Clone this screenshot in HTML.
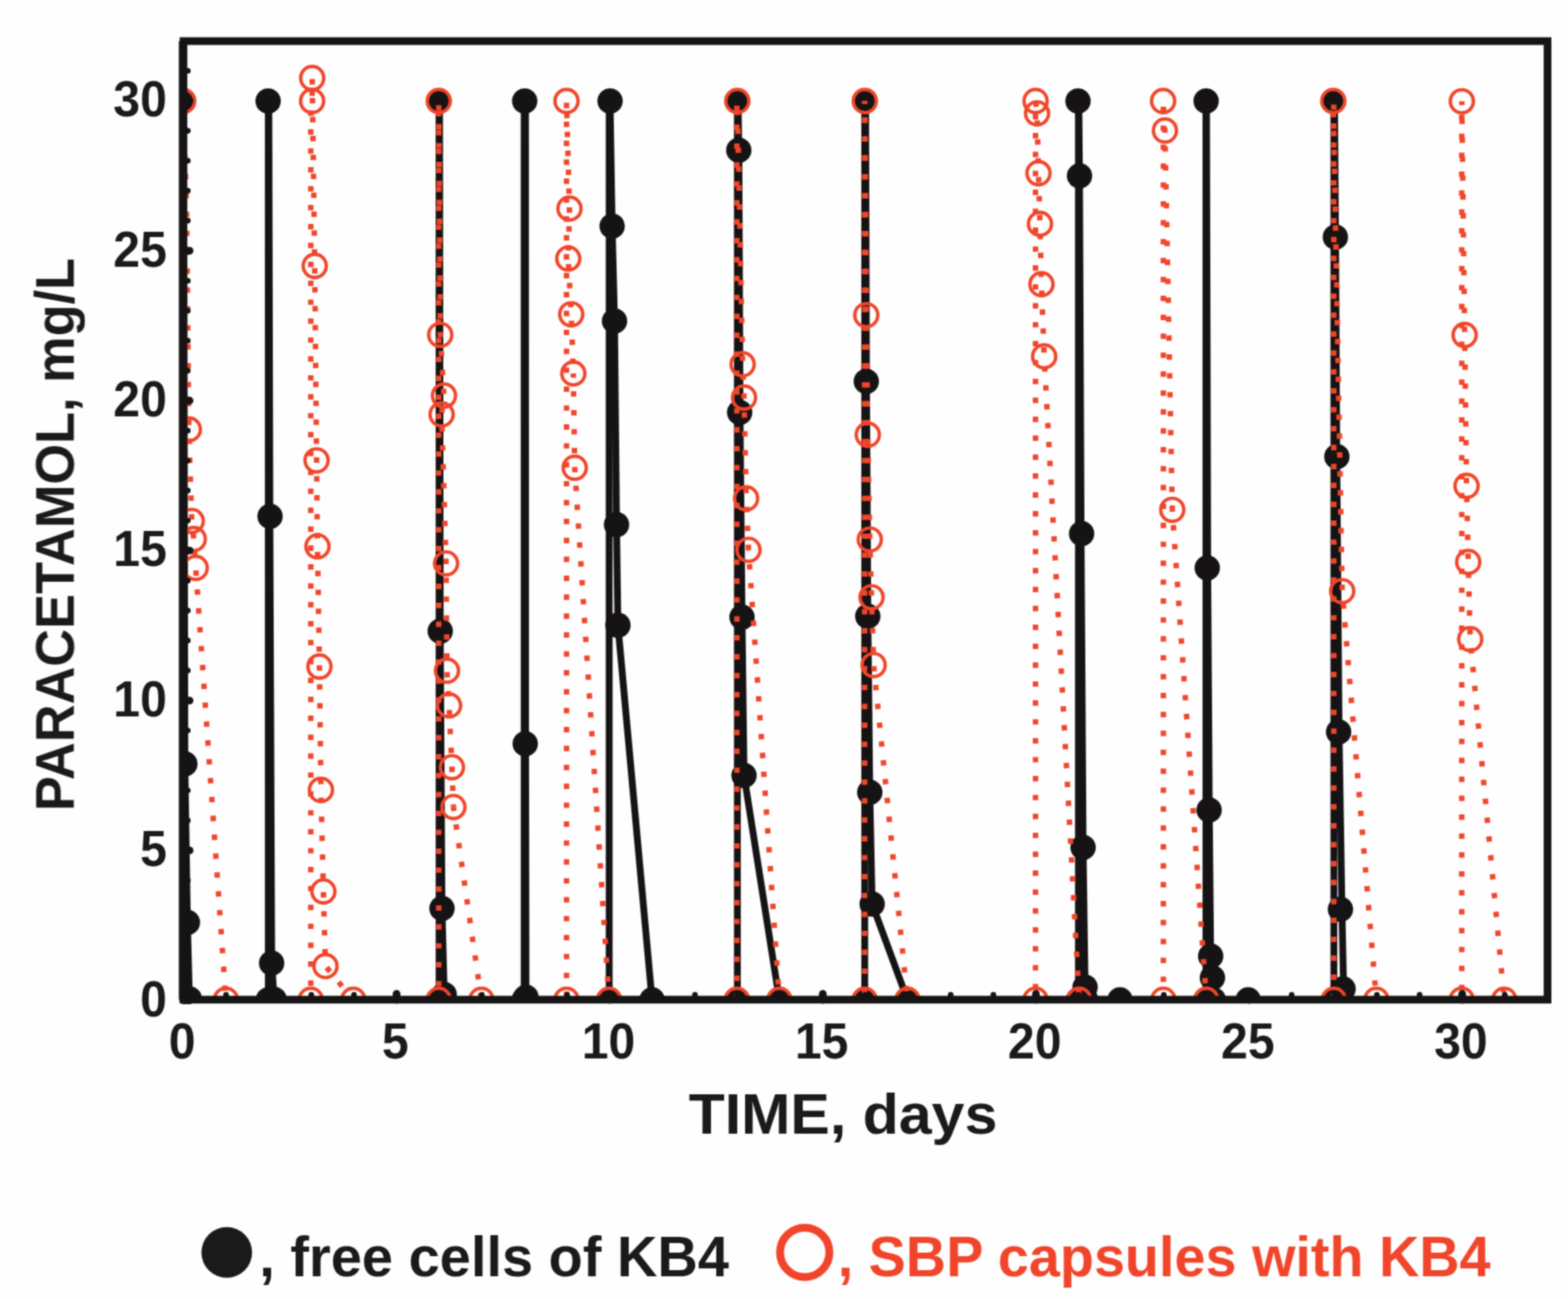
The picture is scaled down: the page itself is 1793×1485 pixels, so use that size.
<!DOCTYPE html>
<html lang="en"><head><meta charset="utf-8"><title>Paracetamol degradation: free cells of KB4 vs SBP capsules with KB4</title>
<style>
html,body{margin:0;padding:0;background:#fff;}
body{width:1793px;height:1485px;overflow:hidden;}
svg{display:block;}
text{font-family:"Liberation Sans",Arial,Helvetica,sans-serif;font-weight:bold;}
.tk{font-size:57px;fill:#1a1a1a;}
.bl{fill:none;stroke:#161314;stroke-width:7.8;stroke-linejoin:round;stroke-linecap:round;}
.rl{fill:none;stroke:#f0452a;stroke-width:6.2;stroke-linejoin:round;stroke-linecap:butt;stroke-dasharray:6.20 15.42;}
.bd{fill:#161314;}
.rd{fill:none;stroke:#f0452a;stroke-width:3.9;}
</style></head><body>
<svg width="1793" height="1485" viewBox="0 0 1793 1485">
<rect x="0" y="0" width="1793" height="1485" fill="#fefefe"/>
<defs><filter id="soft" x="0" y="0" width="1793" height="1485" filterUnits="userSpaceOnUse" color-interpolation-filters="sRGB"><feConvolveMatrix order="5" kernelMatrix="0.0014 0.0164 0.0374 0.0164 0.0014 0.0164 0.1933 0.4396 0.1933 0.0164 0.0374 0.4396 1.0000 0.4396 0.0374 0.0164 0.1933 0.4396 0.1933 0.0164 0.0014 0.0164 0.0374 0.0164 0.0014" edgeMode="duplicate" preserveAlpha="false"/></filter><clipPath id="pc"><rect x="205.2" y="43" width="1568.8" height="1100.5"/></clipPath></defs>
<g filter="url(#soft)">
<g clip-path="url(#pc)">
<g class="bl">
<polyline points="209.8,115.5 211.4,873.2 214.3,1054.6 216.6,1142.0"/>
<polyline points="306.8,1143.0 306.8,115.5"/>
<polyline points="307.4,115.5 308.6,590.2 310.7,1101.1 313.5,1142.5"/>
<polyline points="502.1,1143.0 502.1,115.5"/>
<polyline points="502.6,115.5 503.4,721.5 505.4,1038.5 508.0,1137.0"/>
<polyline points="599.4,1143.0 599.4,115.5"/>
<polyline points="600.9,115.5 601.0,850.2 601.5,1140.0"/>
<polyline points="696.6,1143.0 696.6,115.5"/>
<polyline points="697.6,115.5 700.0,258.6 702.7,367.0 705.0,599.8 706.6,714.8 745.6,1143.0"/>
<polyline points="843.2,1143.0 843.2,115.5"/>
<polyline points="844.0,115.5 844.9,171.7 846.2,471.4 848.5,705.4 850.8,886.5 891.2,1143.0"/>
<polyline points="988.8,1143.0 988.8,115.5"/>
<polyline points="989.8,115.5 990.8,436.0 992.4,704.4 994.6,905.7 997.3,1033.5 1037.7,1143.0"/>
<polyline points="1233.2,1143.0 1233.2,115.5"/>
<polyline points="1233.6,115.5 1234.4,201.0 1236.2,610.1 1238.5,968.7 1240.8,1128.6 1241.5,1143.0 1280.7,1143.0"/>
<polyline points="1379.0,1143.0 1379.0,115.5"/>
<polyline points="1379.6,115.5 1381.0,649.2 1382.8,925.9 1384.4,1093.0 1386.4,1117.8 1387.5,1143.0 1427.3,1143.0"/>
<polyline points="1525.3,1143.0 1525.3,115.5"/>
<polyline points="1526.0,115.5 1527.2,271.0 1528.6,521.9 1531.2,836.7 1534.5,1039.5 1536.4,1130.5"/>
</g>
<g class="bd">
<circle cx="209.8" cy="115.5" r="14.5"/>
<circle cx="211.4" cy="873.2" r="14.5"/>
<circle cx="214.3" cy="1054.6" r="14.5"/>
<circle cx="216.6" cy="1142.0" r="14.5"/>
<circle cx="306.8" cy="1143.0" r="14.5"/>
<circle cx="306.6" cy="115.5" r="14.5"/>
<circle cx="308.8" cy="590.2" r="14.5"/>
<circle cx="310.6" cy="1101.1" r="14.5"/>
<circle cx="313.5" cy="1142.5" r="14.5"/>
<circle cx="502.1" cy="1143.0" r="14.5"/>
<circle cx="501.7" cy="115.5" r="14.5"/>
<circle cx="503.4" cy="721.5" r="14.5"/>
<circle cx="505.4" cy="1038.5" r="14.5"/>
<circle cx="508.0" cy="1137.0" r="14.5"/>
<circle cx="599.4" cy="1143.0" r="14.5"/>
<circle cx="600.0" cy="115.5" r="14.5"/>
<circle cx="600.6" cy="850.2" r="14.5"/>
<circle cx="601.5" cy="1140.0" r="14.5"/>
<circle cx="696.6" cy="1143.0" r="14.5"/>
<circle cx="697.6" cy="115.5" r="14.5"/>
<circle cx="700.0" cy="258.6" r="14.5"/>
<circle cx="702.7" cy="367.0" r="14.5"/>
<circle cx="705.0" cy="599.8" r="14.5"/>
<circle cx="706.6" cy="714.8" r="14.5"/>
<circle cx="745.6" cy="1143.0" r="14.5"/>
<circle cx="843.2" cy="1143.0" r="14.5"/>
<circle cx="843.1" cy="115.5" r="14.5"/>
<circle cx="844.8" cy="171.7" r="14.5"/>
<circle cx="845.8" cy="471.4" r="14.5"/>
<circle cx="848.5" cy="705.4" r="14.5"/>
<circle cx="850.8" cy="886.5" r="14.5"/>
<circle cx="891.2" cy="1143.0" r="14.5"/>
<circle cx="988.8" cy="1143.0" r="14.5"/>
<circle cx="988.9" cy="115.5" r="14.5"/>
<circle cx="990.6" cy="436.0" r="14.5"/>
<circle cx="992.3" cy="704.4" r="14.5"/>
<circle cx="994.6" cy="905.7" r="14.5"/>
<circle cx="997.3" cy="1033.5" r="14.5"/>
<circle cx="1037.7" cy="1143.0" r="14.5"/>
<circle cx="1233.2" cy="1143.0" r="14.5"/>
<circle cx="1232.7" cy="115.5" r="14.5"/>
<circle cx="1234.4" cy="201.0" r="14.5"/>
<circle cx="1236.8" cy="610.1" r="14.5"/>
<circle cx="1238.5" cy="968.7" r="14.5"/>
<circle cx="1240.8" cy="1128.6" r="14.5"/>
<circle cx="1241.5" cy="1143.0" r="14.5"/>
<circle cx="1280.7" cy="1143.0" r="14.5"/>
<circle cx="1379.0" cy="1143.0" r="14.5"/>
<circle cx="1379.2" cy="115.5" r="14.5"/>
<circle cx="1380.5" cy="649.2" r="14.5"/>
<circle cx="1382.6" cy="925.9" r="14.5"/>
<circle cx="1384.4" cy="1093.0" r="14.5"/>
<circle cx="1386.4" cy="1117.8" r="14.5"/>
<circle cx="1387.5" cy="1143.0" r="14.5"/>
<circle cx="1427.3" cy="1143.0" r="14.5"/>
<circle cx="1525.3" cy="1143.0" r="14.5"/>
<circle cx="1524.6" cy="115.5" r="14.5"/>
<circle cx="1527.0" cy="271.0" r="14.5"/>
<circle cx="1528.7" cy="521.9" r="14.5"/>
<circle cx="1530.7" cy="836.7" r="14.5"/>
<circle cx="1532.8" cy="1039.5" r="14.5"/>
<circle cx="1535.8" cy="1130.5" r="14.5"/>
</g>
<g class="rl">
<polyline points="209.4,115.5 213.3,235.0 215.9,490.9 219.3,595.6 221.6,616.2 223.8,649.2" stroke-dashoffset="3.11"/>
<polyline points="223.8,649.2 258.3,1143.0" stroke-dashoffset="18.67"/>
<polyline points="355.4,1143.0 355.4,115.5" stroke-dashoffset="5.56"/>
<polyline points="356.9,115.5 357.0,89.2 359.9,304.0 362.0,526.3 363.0,624.6 365.3,762.0 367.0,903.0 369.8,1019.1 372.2,1104.4 404.0,1143.0" stroke-dashoffset="15.74"/>
<polyline points="501.7,1143.0 501.7,115.5" stroke-dashoffset="6.20"/>
<polyline points="501.7,115.5 503.4,382.8 507.7,452.2 505.0,473.7 510.1,644.1 511.1,766.7 513.5,806.4 516.8,877.1 518.5,922.6" stroke-dashoffset="16.96"/>
<polyline points="518.5,922.6 550.5,1143.0" stroke-dashoffset="1.68"/>
<polyline points="647.8,1143.0 647.8,115.5" stroke-dashoffset="18.44"/>
<polyline points="647.8,115.5 651.2,238.4 649.8,295.6 653.2,359.3 655.6,426.9" stroke-dashoffset="8.16"/>
<polyline points="655.6,426.9 657.2,534.7" stroke-dashoffset="1.32"/>
<polyline points="657.2,534.7 696.4,1143.0" stroke-dashoffset="1.05"/>
<polyline points="842.6,1143.0 842.6,115.5" stroke-dashoffset="0.06"/>
<polyline points="843.1,115.5 849.2,416.5 850.8,454.5 853.2,569.7 855.9,628.6" stroke-dashoffset="11.68"/>
<polyline points="855.9,628.6 891.2,1143.0" stroke-dashoffset="5.32"/>
<polyline points="988.7,1143.0 988.7,115.5" stroke-dashoffset="13.58"/>
<polyline points="988.9,115.5 990.6,360.3 992.3,497.0 994.6,616.8 996.6,682.8 999.0,760.3" stroke-dashoffset="2.88"/>
<polyline points="999.0,760.3 1037.7,1143.0" stroke-dashoffset="20.46"/>
<polyline points="1184.1,1143.0 1184.1,115.5" stroke-dashoffset="9.66"/>
<polyline points="1184.2,115.5 1185.9,129.6 1187.5,198.0 1189.2,255.9 1190.9,324.9 1194.0,407.4" stroke-dashoffset="21.05"/>
<polyline points="1194.0,407.4 1234.0,1143.0" stroke-dashoffset="10.29"/>
<polyline points="1330.3,1143.0 1330.3,115.5" stroke-dashoffset="1.24"/>
<polyline points="1330.0,115.5 1332.1,149.2 1340.5,582.8" stroke-dashoffset="13.07"/>
<polyline points="1340.5,582.8 1379.4,1143.0" stroke-dashoffset="4.06"/>
<polyline points="1525.2,1143.0 1525.2,115.5" stroke-dashoffset="20.37"/>
<polyline points="1524.6,115.5 1534.8,675.8" stroke-dashoffset="9.18"/>
<polyline points="1534.8,675.8 1573.9,1143.0" stroke-dashoffset="7.59"/>
<polyline points="1671.5,1143.0 1671.5,115.8" stroke-dashoffset="10.48"/>
<polyline points="1671.6,115.8 1674.8,383.0 1677.0,555.5 1678.9,642.4 1681.2,730.6" stroke-dashoffset="1.86"/>
<polyline points="1681.2,730.6 1720.1,1143.0" stroke-dashoffset="11.29"/>
</g>
<g class="rd">
<circle cx="209.4" cy="115.5" r="13.2"/>
<circle cx="215.9" cy="490.9" r="13.2"/>
<circle cx="219.3" cy="595.6" r="13.2"/>
<circle cx="221.6" cy="616.2" r="13.2"/>
<circle cx="223.8" cy="649.2" r="13.2"/>
<circle cx="258.3" cy="1143.0" r="13.2"/>
<circle cx="355.4" cy="1143.0" r="13.2"/>
<circle cx="356.9" cy="115.5" r="13.2"/>
<circle cx="357.0" cy="89.2" r="13.2"/>
<circle cx="359.9" cy="304.0" r="13.2"/>
<circle cx="362.0" cy="526.3" r="13.2"/>
<circle cx="363.0" cy="624.6" r="13.2"/>
<circle cx="365.3" cy="762.0" r="13.2"/>
<circle cx="367.0" cy="903.0" r="13.2"/>
<circle cx="369.8" cy="1019.1" r="13.2"/>
<circle cx="372.2" cy="1104.4" r="13.2"/>
<circle cx="404.0" cy="1143.0" r="13.2"/>
<circle cx="501.7" cy="1143.0" r="13.2"/>
<circle cx="501.7" cy="115.5" r="13.2"/>
<circle cx="503.4" cy="382.8" r="13.2"/>
<circle cx="507.7" cy="452.2" r="13.2"/>
<circle cx="505.0" cy="473.7" r="13.2"/>
<circle cx="510.1" cy="644.1" r="13.2"/>
<circle cx="511.1" cy="766.7" r="13.2"/>
<circle cx="513.5" cy="806.4" r="13.2"/>
<circle cx="516.8" cy="877.1" r="13.2"/>
<circle cx="518.5" cy="922.6" r="13.2"/>
<circle cx="550.5" cy="1143.0" r="13.2"/>
<circle cx="647.8" cy="1143.0" r="13.2"/>
<circle cx="647.8" cy="115.5" r="13.2"/>
<circle cx="651.2" cy="238.4" r="13.2"/>
<circle cx="649.8" cy="295.6" r="13.2"/>
<circle cx="653.2" cy="359.3" r="13.2"/>
<circle cx="655.6" cy="426.9" r="13.2"/>
<circle cx="657.2" cy="534.7" r="13.2"/>
<circle cx="696.4" cy="1143.0" r="13.2"/>
<circle cx="842.6" cy="1143.0" r="13.2"/>
<circle cx="843.1" cy="115.5" r="13.2"/>
<circle cx="849.2" cy="416.5" r="13.2"/>
<circle cx="850.8" cy="454.5" r="13.2"/>
<circle cx="853.2" cy="569.7" r="13.2"/>
<circle cx="855.9" cy="628.6" r="13.2"/>
<circle cx="891.2" cy="1143.0" r="13.2"/>
<circle cx="988.7" cy="1143.0" r="13.2"/>
<circle cx="988.9" cy="115.5" r="13.2"/>
<circle cx="990.6" cy="360.3" r="13.2"/>
<circle cx="992.3" cy="497.0" r="13.2"/>
<circle cx="994.6" cy="616.8" r="13.2"/>
<circle cx="996.6" cy="682.8" r="13.2"/>
<circle cx="999.0" cy="760.3" r="13.2"/>
<circle cx="1037.7" cy="1143.0" r="13.2"/>
<circle cx="1184.1" cy="1143.0" r="13.2"/>
<circle cx="1184.2" cy="115.5" r="13.2"/>
<circle cx="1185.9" cy="129.6" r="13.2"/>
<circle cx="1187.5" cy="198.0" r="13.2"/>
<circle cx="1189.2" cy="255.9" r="13.2"/>
<circle cx="1190.9" cy="324.9" r="13.2"/>
<circle cx="1194.0" cy="407.4" r="13.2"/>
<circle cx="1234.0" cy="1143.0" r="13.2"/>
<circle cx="1330.3" cy="1143.0" r="13.2"/>
<circle cx="1330.0" cy="115.5" r="13.2"/>
<circle cx="1332.1" cy="149.2" r="13.2"/>
<circle cx="1340.5" cy="582.8" r="13.2"/>
<circle cx="1379.4" cy="1143.0" r="13.2"/>
<circle cx="1525.2" cy="1143.0" r="13.2"/>
<circle cx="1524.6" cy="115.5" r="13.2"/>
<circle cx="1534.8" cy="675.8" r="13.2"/>
<circle cx="1573.9" cy="1143.0" r="13.2"/>
<circle cx="1671.5" cy="1143.0" r="13.2"/>
<circle cx="1671.6" cy="115.8" r="13.2"/>
<circle cx="1674.8" cy="383.0" r="13.2"/>
<circle cx="1677.0" cy="555.5" r="13.2"/>
<circle cx="1678.9" cy="642.4" r="13.2"/>
<circle cx="1681.2" cy="730.6" r="13.2"/>
<circle cx="1720.1" cy="1143.0" r="13.2"/>
</g>
</g>
<g stroke="#161314" stroke-linecap="round" fill="none">
<line x1="209.8" y1="1143" x2="209.8" y2="1136.2" stroke-width="8.8"/>
<line x1="258.5" y1="1143" x2="258.5" y2="1137.2" stroke-width="6.4"/>
<line x1="307.3" y1="1143" x2="307.3" y2="1137.2" stroke-width="6.4"/>
<line x1="356.0" y1="1143" x2="356.0" y2="1137.2" stroke-width="6.4"/>
<line x1="404.8" y1="1143" x2="404.8" y2="1137.2" stroke-width="6.4"/>
<line x1="453.5" y1="1143" x2="453.5" y2="1136.2" stroke-width="8.8"/>
<line x1="502.2" y1="1143" x2="502.2" y2="1137.2" stroke-width="6.4"/>
<line x1="551.0" y1="1143" x2="551.0" y2="1137.2" stroke-width="6.4"/>
<line x1="599.7" y1="1143" x2="599.7" y2="1137.2" stroke-width="6.4"/>
<line x1="648.5" y1="1143" x2="648.5" y2="1137.2" stroke-width="6.4"/>
<line x1="697.2" y1="1143" x2="697.2" y2="1136.2" stroke-width="8.8"/>
<line x1="745.9" y1="1143" x2="745.9" y2="1137.2" stroke-width="6.4"/>
<line x1="794.7" y1="1143" x2="794.7" y2="1137.2" stroke-width="6.4"/>
<line x1="843.4" y1="1143" x2="843.4" y2="1137.2" stroke-width="6.4"/>
<line x1="892.2" y1="1143" x2="892.2" y2="1137.2" stroke-width="6.4"/>
<line x1="940.9" y1="1143" x2="940.9" y2="1136.2" stroke-width="8.8"/>
<line x1="989.6" y1="1143" x2="989.6" y2="1137.2" stroke-width="6.4"/>
<line x1="1038.4" y1="1143" x2="1038.4" y2="1137.2" stroke-width="6.4"/>
<line x1="1087.1" y1="1143" x2="1087.1" y2="1137.2" stroke-width="6.4"/>
<line x1="1135.9" y1="1143" x2="1135.9" y2="1137.2" stroke-width="6.4"/>
<line x1="1184.6" y1="1143" x2="1184.6" y2="1136.2" stroke-width="8.8"/>
<line x1="1233.3" y1="1143" x2="1233.3" y2="1137.2" stroke-width="6.4"/>
<line x1="1282.1" y1="1143" x2="1282.1" y2="1137.2" stroke-width="6.4"/>
<line x1="1330.8" y1="1143" x2="1330.8" y2="1137.2" stroke-width="6.4"/>
<line x1="1379.6" y1="1143" x2="1379.6" y2="1137.2" stroke-width="6.4"/>
<line x1="1428.3" y1="1143" x2="1428.3" y2="1136.2" stroke-width="8.8"/>
<line x1="1477.0" y1="1143" x2="1477.0" y2="1137.2" stroke-width="6.4"/>
<line x1="1525.8" y1="1143" x2="1525.8" y2="1137.2" stroke-width="6.4"/>
<line x1="1574.5" y1="1143" x2="1574.5" y2="1137.2" stroke-width="6.4"/>
<line x1="1623.3" y1="1143" x2="1623.3" y2="1137.2" stroke-width="6.4"/>
<line x1="1672.0" y1="1143" x2="1672.0" y2="1136.2" stroke-width="8.8"/>
<line x1="1720.7" y1="1143" x2="1720.7" y2="1137.2" stroke-width="6.4"/>
<line x1="210" y1="1143.6" x2="216.8" y2="1143.6" stroke-width="8.8"/>
<line x1="210" y1="1109.3" x2="214.8" y2="1109.3" stroke-width="6.4"/>
<line x1="210" y1="1075.0" x2="214.8" y2="1075.0" stroke-width="6.4"/>
<line x1="210" y1="1040.8" x2="214.8" y2="1040.8" stroke-width="6.4"/>
<line x1="210" y1="1006.5" x2="214.8" y2="1006.5" stroke-width="6.4"/>
<line x1="210" y1="972.2" x2="216.8" y2="972.2" stroke-width="8.8"/>
<line x1="210" y1="937.9" x2="214.8" y2="937.9" stroke-width="6.4"/>
<line x1="210" y1="903.6" x2="214.8" y2="903.6" stroke-width="6.4"/>
<line x1="210" y1="869.4" x2="214.8" y2="869.4" stroke-width="6.4"/>
<line x1="210" y1="835.1" x2="214.8" y2="835.1" stroke-width="6.4"/>
<line x1="210" y1="800.8" x2="216.8" y2="800.8" stroke-width="8.8"/>
<line x1="210" y1="766.5" x2="214.8" y2="766.5" stroke-width="6.4"/>
<line x1="210" y1="732.2" x2="214.8" y2="732.2" stroke-width="6.4"/>
<line x1="210" y1="698.0" x2="214.8" y2="698.0" stroke-width="6.4"/>
<line x1="210" y1="663.7" x2="214.8" y2="663.7" stroke-width="6.4"/>
<line x1="210" y1="629.4" x2="216.8" y2="629.4" stroke-width="8.8"/>
<line x1="210" y1="595.1" x2="214.8" y2="595.1" stroke-width="6.4"/>
<line x1="210" y1="560.8" x2="214.8" y2="560.8" stroke-width="6.4"/>
<line x1="210" y1="526.6" x2="214.8" y2="526.6" stroke-width="6.4"/>
<line x1="210" y1="492.3" x2="214.8" y2="492.3" stroke-width="6.4"/>
<line x1="210" y1="458.0" x2="216.8" y2="458.0" stroke-width="8.8"/>
<line x1="210" y1="423.7" x2="214.8" y2="423.7" stroke-width="6.4"/>
<line x1="210" y1="389.4" x2="214.8" y2="389.4" stroke-width="6.4"/>
<line x1="210" y1="355.2" x2="214.8" y2="355.2" stroke-width="6.4"/>
<line x1="210" y1="320.9" x2="214.8" y2="320.9" stroke-width="6.4"/>
<line x1="210" y1="286.6" x2="216.8" y2="286.6" stroke-width="8.8"/>
<line x1="210" y1="252.3" x2="214.8" y2="252.3" stroke-width="6.4"/>
<line x1="210" y1="218.0" x2="214.8" y2="218.0" stroke-width="6.4"/>
<line x1="210" y1="183.8" x2="214.8" y2="183.8" stroke-width="6.4"/>
<line x1="210" y1="149.5" x2="214.8" y2="149.5" stroke-width="6.4"/>
<line x1="210" y1="115.2" x2="216.8" y2="115.2" stroke-width="8.8"/>
<line x1="210" y1="80.9" x2="214.8" y2="80.9" stroke-width="6.4"/>
</g>
<rect x="209.8" y="47.0" width="1559.8" height="1095.8" fill="none" stroke="#161314" stroke-width="8.8" stroke-linejoin="miter"/>
<line x1="207.2" y1="47" x2="207.2" y2="1142.8" stroke="#161314" stroke-width="5.4"/>
<text class="tk" transform="translate(208.4,1210.0) scale(0.966,1)" text-anchor="middle">0</text>
<text class="tk" transform="translate(452.1,1210.0) scale(0.966,1)" text-anchor="middle">5</text>
<text class="tk" transform="translate(695.8,1210.0) scale(0.966,1)" text-anchor="middle">10</text>
<text class="tk" transform="translate(939.5,1210.0) scale(0.966,1)" text-anchor="middle">15</text>
<text class="tk" transform="translate(1183.2,1210.0) scale(0.966,1)" text-anchor="middle">20</text>
<text class="tk" transform="translate(1426.9,1210.0) scale(0.966,1)" text-anchor="middle">25</text>
<text class="tk" transform="translate(1670.6,1210.0) scale(0.966,1)" text-anchor="middle">30</text>
<text class="tk" transform="translate(190.8,1161.6) scale(0.966,1)" text-anchor="end">0</text>
<text class="tk" transform="translate(190.8,990.2) scale(0.966,1)" text-anchor="end">5</text>
<text class="tk" transform="translate(190.8,818.8) scale(0.966,1)" text-anchor="end">10</text>
<text class="tk" transform="translate(190.8,647.4) scale(0.966,1)" text-anchor="end">15</text>
<text class="tk" transform="translate(190.8,476.0) scale(0.966,1)" text-anchor="end">20</text>
<text class="tk" transform="translate(190.8,304.6) scale(0.966,1)" text-anchor="end">25</text>
<text class="tk" transform="translate(190.8,133.2) scale(0.966,1)" text-anchor="end">30</text>
<text x="964.0" y="1295.6" text-anchor="middle" font-size="64" fill="#1a1a1a" textLength="353" lengthAdjust="spacingAndGlyphs">TIME, days</text>
<text transform="translate(84.4,611.0) rotate(-90)" text-anchor="middle" font-size="62.2" fill="#1a1a1a" textLength="632.3" lengthAdjust="spacingAndGlyphs">PARACETAMOL, mg/L</text>
<circle cx="259.3" cy="1431.8" r="29" fill="#1a1a1a"/>
<text x="296.5" y="1458.9" font-size="64" fill="#1a1a1a" textLength="537" lengthAdjust="spacingAndGlyphs">, free cells of KB4</text>
<circle cx="920.2" cy="1431.7" r="28.2" fill="none" stroke="#f0452a" stroke-width="9"/>
<text x="957.9" y="1458.9" font-size="64" fill="#f0452a" textLength="746.6" lengthAdjust="spacingAndGlyphs">, SBP capsules with KB4</text>
</g>
</svg>
</body></html>
